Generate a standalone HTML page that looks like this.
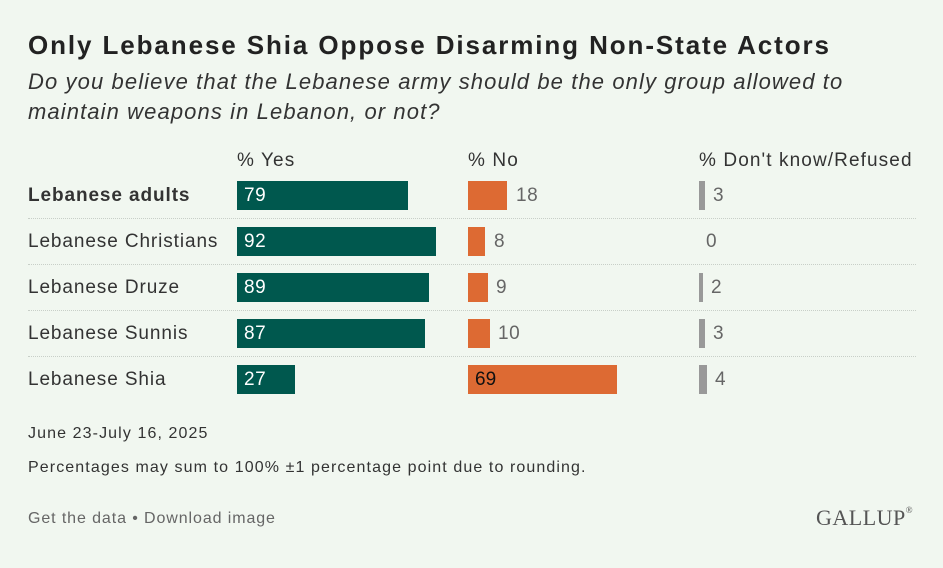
<!DOCTYPE html>
<html><head><style>
body{margin:0;width:943px;height:568px;background:#f1f7f0;font-family:"Liberation Sans",sans-serif;color:#222;position:relative;overflow:hidden}
div{position:absolute;white-space:nowrap}
.t{left:28px;top:30px;font-size:26px;font-weight:bold;color:#222;letter-spacing:1.9px}
.s{left:28px;top:67px;font-size:22px;font-style:italic;color:#333;line-height:30px;white-space:normal;width:900px;letter-spacing:1.1px}
.h{top:150px;font-size:19px;color:#333;letter-spacing:1.1px}
.l{left:28px;font-size:19px;color:#333;letter-spacing:0.9px}
.b{height:29px}
.g{background:#00584e;color:#fff;font-size:19px;line-height:29px;padding-left:7px;box-sizing:border-box;letter-spacing:0.5px}
.o{background:#dd6a33}
.k{background:#999;width:6px}
.v{font-size:19px;color:#666;letter-spacing:0.5px}
.sep{left:28px;width:888px;border-top:1px dotted #c8cfc8;height:0}
.f{left:28px;font-size:16px;color:#333;letter-spacing:1.1px}
</style></head><body>
<div class="t">Only Lebanese Shia Oppose Disarming Non-State Actors</div>
<div class="s">Do you believe that the Lebanese army should be the only group allowed to<br>maintain weapons in Lebanon, or not?</div>
<div class="h" style="left:237px">% Yes</div>
<div class="h" style="left:468px">% No</div>
<div class="h" style="left:699px">% Don't know/Refused</div>

<div class="l" style="top:185px;font-weight:bold">Lebanese adults</div>
<div class="b g" style="left:237px;top:181px;width:171px">79</div>
<div class="b o" style="left:468px;top:181px;width:39px"></div>
<div class="v" style="left:516px;top:185px">18</div>
<div class="b k" style="left:699px;top:181px"></div>
<div class="v" style="left:713px;top:185px">3</div>
<div class="sep" style="top:218px"></div>

<div class="l" style="top:231px">Lebanese Christians</div>
<div class="b g" style="left:237px;top:227px;width:199px">92</div>
<div class="b o" style="left:468px;top:227px;width:17px"></div>
<div class="v" style="left:494px;top:231px">8</div>
<div class="v" style="left:706px;top:231px">0</div>
<div class="sep" style="top:264px"></div>

<div class="l" style="top:277px">Lebanese Druze</div>
<div class="b g" style="left:237px;top:273px;width:192px">89</div>
<div class="b o" style="left:468px;top:273px;width:20px"></div>
<div class="v" style="left:496px;top:277px">9</div>
<div class="b k" style="left:699px;top:273px;width:4px"></div>
<div class="v" style="left:711px;top:277px">2</div>
<div class="sep" style="top:310px"></div>

<div class="l" style="top:323px">Lebanese Sunnis</div>
<div class="b g" style="left:237px;top:319px;width:188px">87</div>
<div class="b o" style="left:468px;top:319px;width:22px"></div>
<div class="v" style="left:498px;top:323px">10</div>
<div class="b k" style="left:699px;top:319px"></div>
<div class="v" style="left:713px;top:323px">3</div>
<div class="sep" style="top:356px"></div>

<div class="l" style="top:369px">Lebanese Shia</div>
<div class="b g" style="left:237px;top:365px;width:58px">27</div>
<div class="b o" style="left:468px;top:365px;width:149px;color:#111;font-size:19px;line-height:29px;padding-left:7px;box-sizing:border-box">69</div>
<div class="b k" style="left:699px;top:365px;width:8px"></div>
<div class="v" style="left:715px;top:369px">4</div>

<div class="f" style="top:425px">June 23-July 16, 2025</div>
<div class="f" style="top:459px">Percentages may sum to 100% ±1 percentage point due to rounding.</div>
<div class="f" style="top:510px;color:#666;letter-spacing:0.9px">Get the data • Download image</div>
<div style="left:816px;top:505px;font-family:'Liberation Serif',serif;font-size:22px;color:#555;letter-spacing:0.5px">GALLUP<span style="font-size:9px;vertical-align:top">®</span></div>
</body></html>
